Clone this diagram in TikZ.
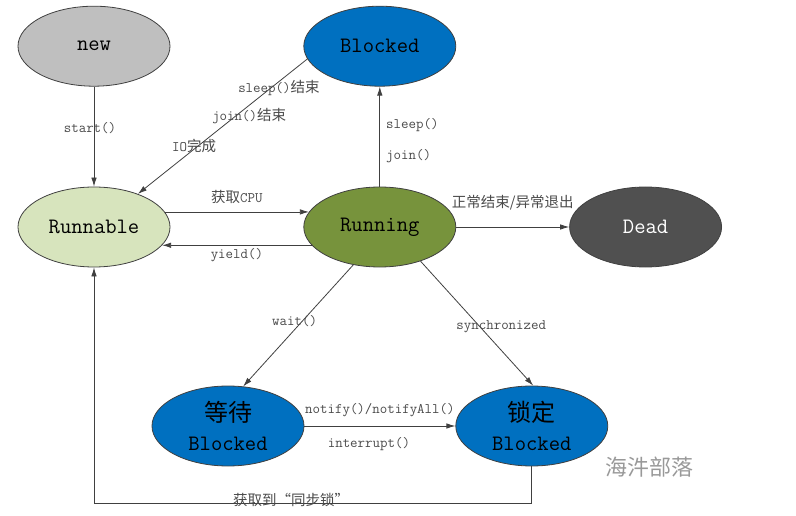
\documentclass[tikz,border=0pt]{standalone}
\usepackage{fontspec}
\newfontfamily\cjk{Noto Sans CJK SC}
\usetikzlibrary{positioning,arrows.meta,shapes.geometric}
\definecolor{tnew}{HTML}{BFBFBF}
\definecolor{tblue}{HTML}{0070C0}
\definecolor{trunnable}{HTML}{D7E4BD}
\definecolor{trunning}{HTML}{77933C}
\definecolor{tdead}{HTML}{505050}
\definecolor{tline}{HTML}{404040}
\definecolor{tlabel}{HTML}{4A4A4A}

\begin{document}
\begin{tikzpicture}[x=1pt, y=-1pt, font=\ttfamily,
  st/.style={ellipse, draw=tline, line width=0.8pt, minimum width=152pt, minimum height=80pt, inner sep=0pt, align=center, font=\ttfamily\fontsize{22}{29}\selectfont},
  tr/.style={draw=tline, line width=0.8pt, -{Latex[length=9pt, width=5.5pt]}},
  lb/.style={text=tlabel, inner sep=1pt, font=\ttfamily\fontsize{14.5}{16}\selectfont}]
\useasboundingbox (0,0) rectangle (796,516);
% states
\node[st, fill=trunnable] (runnable) at (94,227) {Runnable};
\node[st, fill=tnew, above=100pt of runnable] (new) {new};
\node[st, fill=trunning, right=133pt of runnable] (running) {Running};
\node[st, fill=tblue, above=100pt of running] (blocked) {Blocked};
\node[st, fill=tdead, text=white, right=113pt of running] (dead) {Dead};
\node[st, fill=tblue] (wait) at (228,426) {{\cjk\fontsize{24}{29}\selectfont 等待}\\Blocked};
\node[st, fill=tblue, right=151pt of wait] (lock) {{\cjk\fontsize{24}{29}\selectfont 锁定}\\Blocked};
\coordinate (bot) at (94,503);
% transitions
\draw[tr] (new) -- node[lb, pos=.41, xshift=-4pt] {start()} (runnable);
\draw[tr] (blocked.190) -- node[lb, pos=.215, xshift=8pt] {sleep(){\cjk 结束}}
  node[lb, pos=.42, xshift=13pt] {join(){\cjk 结束}}
  node[lb, pos=.645, xshift=-4pt] {IO{\cjk 完成}} (runnable.37);
\draw[tr] (runnable.12) -- node[lb, above=7pt] {{\cjk 获取}CPU} (running.168);
\draw[tr] (running.195) -- node[lb, below=2pt] {yield()} (runnable.345);
\draw[tr] (running) -- node[lb, pos=.62, right=5pt] {sleep()} node[lb, pos=.3, right=5pt] {join()} (blocked);
\draw[tr] (running) -- node[lb, above=16pt] {\cjk 正常结束/异常退出} (dead);
\draw[tr] (running.235) -- node[lb, pos=.46, xshift=-8pt] {wait()} (wait.69);
\draw[tr] (running.320) -- node[lb, pos=.53, xshift=21pt] {synchronized} (lock.88);
\draw[tr] (wait) -- node[lb, above=8pt] {notify()/notifyAll()} node[lb, below=10pt, xshift=-11pt] {interrupt()} (lock);
\draw[tr] (lock.south) -- (lock.south |- bot) -| node[lb, pos=.275, yshift=3pt] {{\cjk 获取到“同步锁”}} (runnable.south);
% watermark
\node[text=black!40, font=\cjk\fontsize{22}{24}\selectfont] (mark) at (649,467) {海汼部落};
\end{tikzpicture}
\end{document}
